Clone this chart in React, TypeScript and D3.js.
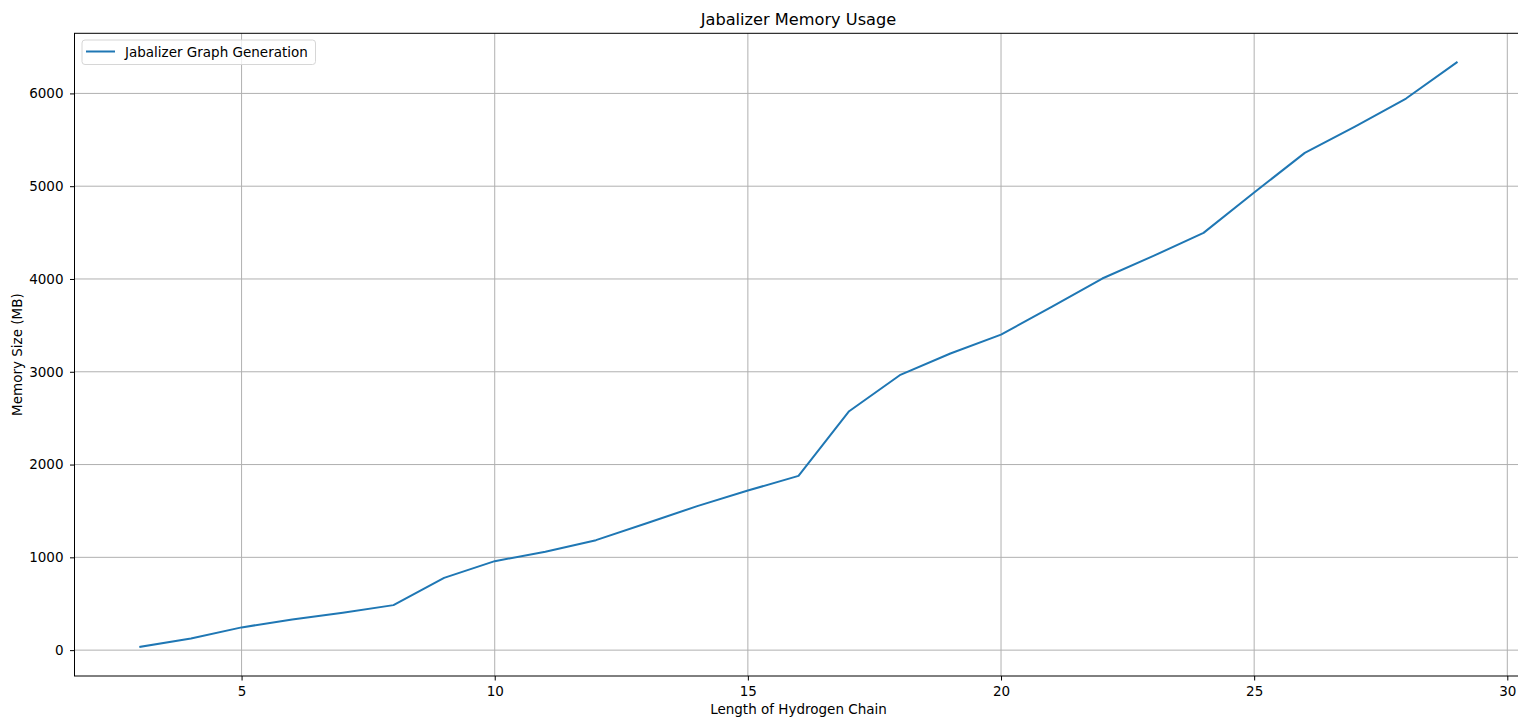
import * as d3 from "d3";
import { useRef, useEffect } from "react";

// chain length (x) and memory in MB (y)
const chainLengths = [
  3, 4, 5, 6, 7, 8, 9, 10, 11, 12, 13, 14, 15, 16, 17, 18, 19, 20, 21, 22, 23,
  24, 25, 26, 27, 28, 29,
];
const memoryMB = [
  36, 126, 245, 331, 402, 485, 779, 959, 1060, 1185, 1368, 1552, 1720, 1878,
  2575, 2963, 3197, 3400, 3700, 4005, 4246, 4497, 4932, 5359, 5645, 5945, 6333,
];
const xTicks = [5, 10, 15, 20, 25, 30];
const yTicks = [0, 1000, 2000, 3000, 4000, 5000, 6000];

const seriesName = "Jabalizer Graph Generation";
const lineColor = "#1f77b4";
const font = "'DejaVu Sans', sans-serif";

export default function App() {
  const width = 1518;
  const height = 721;
  // the axes box runs past the right edge of the picture (clipped)
  const plotLeft = 74.5;
  const plotRight = 1522.5;
  const plotTop = 33.3;
  const plotBottom = 676;

  const ref = useRef<SVGSVGElement>(null);

  useEffect(() => {
    if (!ref.current) return;
    const svg = d3.select(ref.current);
    svg.selectAll("*").remove();

    const [x0, x1] = d3.extent(chainLengths) as [number, number];
    const [y0, y1] = d3.extent(memoryMB) as [number, number];
    const px = (x1 - x0) * 0.05;
    const py = (y1 - y0) * 0.05;

    const x = d3
      .scaleLinear()
      .domain([x0 - px, x1 + px])
      .range([plotLeft, plotRight]);
    const y = d3
      .scaleLinear()
      .domain([y0 - py, y1 + py])
      .range([plotBottom, plotTop]);

    // grid
    const grid = svg.append("g").attr("stroke", "#b0b0b0").attr("stroke-width", 1);
    grid
      .selectAll("line.v")
      .data(xTicks)
      .join("line")
      .attr("x1", (d) => x(d))
      .attr("x2", (d) => x(d))
      .attr("y1", plotTop)
      .attr("y2", plotBottom);
    grid
      .selectAll("line.h")
      .data(yTicks)
      .join("line")
      .attr("x1", plotLeft)
      .attr("x2", plotRight)
      .attr("y1", (d) => y(d))
      .attr("y2", (d) => y(d));

    // data line
    const line = d3
      .line<number>()
      .x((_, i) => x(chainLengths[i]))
      .y((d) => y(d));
    svg
      .append("path")
      .datum(memoryMB)
      .attr("fill", "none")
      .attr("stroke", lineColor)
      .attr("stroke-width", 2)
      .attr("stroke-linejoin", "round")
      .attr("stroke-linecap", "square")
      .attr("d", line);

    // axes
    const gx = svg
      .append("g")
      .attr("transform", `translate(0,${plotBottom})`)
      .call(d3.axisBottom(x).tickValues(xTicks).tickSize(4.5).tickPadding(5.5) as any);
    const gy = svg
      .append("g")
      .attr("transform", `translate(${plotLeft},0)`)
      .call(
        d3
          .axisLeft(y)
          .tickValues(yTicks)
          .tickFormat(d3.format("d"))
          .tickSize(4.5)
          .tickPadding(6.5) as any,
      );
    [gx, gy].forEach((g) => {
      g.select(".domain").remove();
      g.selectAll("text")
        .attr("fill", "#000")
        .style("font-family", font)
        .style("font-size", "13.5px");
      g.selectAll("line").attr("stroke", "#000");
    });

    // frame
    svg
      .append("rect")
      .attr("x", plotLeft)
      .attr("y", plotTop)
      .attr("width", plotRight - plotLeft)
      .attr("height", plotBottom - plotTop)
      .attr("fill", "none")
      .attr("stroke", "#000")
      .attr("stroke-width", 1);

    // labels
    svg
      .append("text")
      .attr("x", (plotLeft + plotRight) / 2)
      .attr("y", 25)
      .attr("text-anchor", "middle")
      .style("font-family", font)
      .style("font-size", "16.2px")
      .text("Jabalizer Memory Usage");
    svg
      .append("text")
      .attr("x", (plotLeft + plotRight) / 2)
      .attr("y", 714)
      .attr("text-anchor", "middle")
      .style("font-family", font)
      .style("font-size", "13.5px")
      .text("Length of Hydrogen Chain");
    svg
      .append("text")
      .attr(
        "transform",
        `translate(21.5,${(plotTop + plotBottom) / 2}) rotate(-90)`,
      )
      .attr("text-anchor", "middle")
      .style("font-family", font)
      .style("font-size", "13.5px")
      .text("Memory Size (MB)");

    // legend
    const lg = svg.append("g").attr("transform", `translate(82,40)`);
    lg.append("rect")
      .attr("width", 233.5)
      .attr("height", 24.5)
      .attr("rx", 3)
      .attr("fill", "#fff")
      .attr("fill-opacity", 0.8)
      .attr("stroke", "#d6d6d6");
    lg.append("line")
      .attr("x1", 4)
      .attr("x2", 33)
      .attr("y1", 11.5)
      .attr("y2", 11.5)
      .attr("stroke", lineColor)
      .attr("stroke-width", 2);
    lg.append("text")
      .attr("x", 43)
      .attr("y", 16.5)
      .style("font-family", font)
      .style("font-size", "13.5px")
      .text(seriesName);
  }, []);

  return (
    <svg
      ref={ref}
      width={width}
      height={height}
      style={{ position: "absolute", left: 0, top: 0, background: "#fff", overflow: "hidden" }}
    />
  );
}
